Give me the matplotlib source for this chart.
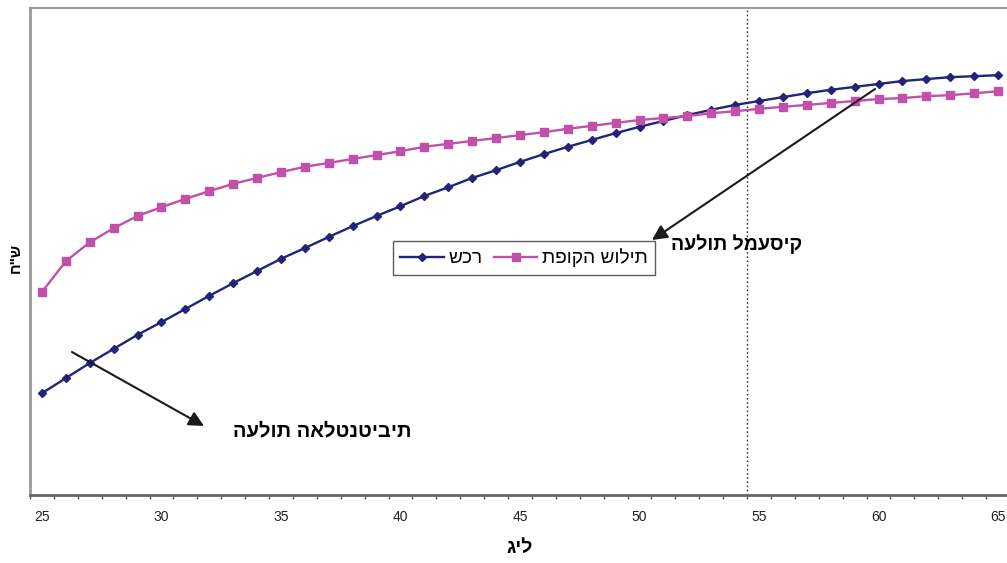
import numpy as np
import matplotlib
matplotlib.use("Agg")
import matplotlib.pyplot as plt

plt.rcParams['font.family'] = ['Liberation Sans', 'DejaVu Sans']


def rtl(s):
    # lay the characters out right-to-left
    return s[::-1]


ages = list(range(25, 66))
wage = [20.9, 24.0, 27.1, 30.0, 32.9, 35.5, 38.2, 40.9, 43.5, 46.0,
        48.5, 50.7, 53.0, 55.2, 57.3, 59.3, 61.4, 63.2, 65.1, 66.7,
        68.4, 70.0, 71.5, 72.9, 74.3, 75.6, 76.8, 78.0, 79.1, 80.1,
        80.9, 81.7, 82.5, 83.2, 83.8, 84.4, 85.0, 85.4, 85.8, 86.0,
        86.2]
marginal_output = [41.7, 48.0, 51.9, 54.8, 57.3, 59.1, 60.8, 62.4, 63.9, 65.1,
                   66.3, 67.4, 68.2, 69.0, 69.8, 70.6, 71.5, 72.1, 72.7, 73.3,
                   73.9, 74.5, 75.2, 75.8, 76.4, 77.0, 77.4, 77.8, 78.4, 78.8,
                   79.3, 79.7, 80.1, 80.5, 80.9, 81.3, 81.5, 81.9, 82.1, 82.5,
                   82.9]
wage_label = "שכר"
output_label = "תפוקה שולית"
retirement_age = 54.5

W, H = 1007, 563
fig = plt.figure(figsize=(W / 100, H / 100), dpi=100)
left_px, right_px, top_px, bottom_px = 30, 1010, 8, 495
ax = fig.add_axes([left_px / W, 1 - bottom_px / H,
                   (right_px - left_px) / W, (bottom_px - top_px) / H])

ax.plot(ages, wage, color='#23237a', lw=1.7, marker='D', ms=4.3,
        label=wage_label, zorder=3)
ax.plot(ages, marginal_output, color='#c050a8', lw=1.7, marker='s', ms=5.5,
        label=output_label, zorder=3)

ax.axvline(retirement_age, color='#333333', lw=1, ls=(0, (1.2, 1.8)), zorder=2)

ax.set_xlim(24.5, 65.5)
ax.set_ylim(0, 100)

ax.set_xticks([25, 30, 35, 40, 45, 50, 55, 60, 65])
ax.tick_params(axis='x', which='major', length=0, pad=11, labelsize=10,
               labelcolor='#222222')
ax.set_xticks(np.arange(24.5, 66, 1.0), minor=True)
ax.tick_params(axis='x', which='minor', length=3.2, width=1, color='#555555',
               direction='out')
ax.set_yticks([])

ax.spines['right'].set_visible(False)
ax.spines['left'].set_color('#999999')
ax.spines['left'].set_linewidth(2)
ax.spines['top'].set_color('#999999')
ax.spines['top'].set_linewidth(1.5)
ax.spines['bottom'].set_color('#666666')
ax.spines['bottom'].set_linewidth(2)

fig.text(520 / W, 1 - 548 / H, "גיל", ha='center', va='center',
         fontsize=14, fontweight='bold')
fig.text(16 / W, 1 - 258 / H, rtl('ש"ח'), ha='center', va='center',
         fontsize=11, fontweight='bold', rotation=90)

leg = ax.legend(loc='center', bbox_to_anchor=((524 - left_px) / (right_px - left_px),
                                               (bottom_px - 258) / (bottom_px - top_px)),
                ncol=2, frameon=True, fancybox=False, fontsize=13.8,
                handlelength=2.25, handletextpad=0.25, columnspacing=0.6,
                borderpad=0.4, borderaxespad=0)
leg.get_frame().set_edgecolor('#333333')
leg.get_frame().set_linewidth(1)


def px_to_data(px, py):
    xd = 25 + (px - 42) / 23.9
    yd = (bottom_px - py) / (bottom_px - top_px) * 100
    return xd, yd


arrow = dict(arrowstyle='-|>,head_length=0.9,head_width=0.45', color='#1a1a1a',
             lw=1.5, shrinkA=0, shrinkB=0)
ax.annotate('', xy=px_to_data(652, 240), xytext=px_to_data(875, 89),
            arrowprops=arrow)
ax.annotate('', xy=px_to_data(204, 426), xytext=px_to_data(72, 352),
            arrowprops=arrow)
ax.text(*px_to_data(737, 244), "העלות למעסיק", ha='center', va='center',
        fontsize=14, fontweight='bold')
ax.text(*px_to_data(322, 431), "העלות האלטנטיבית", ha='center', va='center',
        fontsize=14.5, fontweight='bold')

fig.savefig('out.png', dpi=100)
